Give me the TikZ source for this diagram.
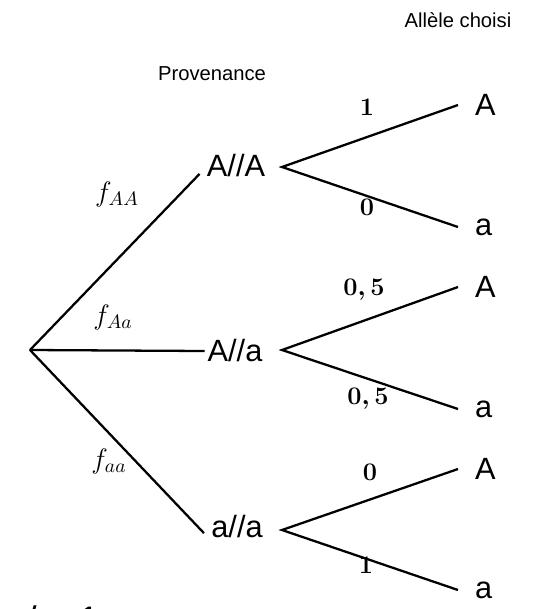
\documentclass[tikz,border=0pt]{standalone}
\usepackage{fontspec}
\usepackage{amsmath}
\usetikzlibrary{positioning}
\newfontfamily\arialfont{Liberation Sans}
\newcommand{\freqlabel}[1]{\scalebox{1.11}{$f_{#1}$}}

\begin{document}
\begin{tikzpicture}[x=0.02cm, y=-0.02cm,
  geno/.style={font=\arialfont\fontsize{17.5}{20}\selectfont, inner sep=0pt},
  leaf/.style={font=\arialfont\fontsize{17.5}{20}\selectfont, anchor=west, inner xsep=9.5pt, inner ysep=0pt},
  prob/.style={font=\Large\boldmath, anchor=base, inner sep=0pt},
  freq/.style={font=\Large, inner sep=0pt},
  head/.style={font=\arialfont\fontsize{11.5}{13}\selectfont, inner sep=0pt},
  branch/.style={line width=1.3pt},
]
  \useasboundingbox (0,0) rectangle (532,609);

  % titres
  \node[head] (prov) at (212,74) {Provenance};
  \node[head] (choix) at (458,20) {Allèle choisi};

  % premier niveau
  \coordinate (root) at (30,350);
  \node[geno] (AA) at (236,166) {A//A};
  \node[geno] (Aa) at (235,351) {A//a};
  \node[geno] (aa) at (237,527) {a//a};

  \draw[branch] (root) -- ([xshift=-4pt, yshift=-4.5pt]AA.west);
  \draw[branch] (root) -- ([xshift=-1.5pt]Aa.west);
  \draw[branch] (root) -- ([xshift=-4pt, yshift=-3.5pt]aa.west);

  \node[freq] (fAA) at (117,194) {\freqlabel{AA}};
  \node[freq] (fAa) at (113,317) {\freqlabel{Aa}};
  \node[freq] (faa) at (109,461) {\freqlabel{aa}};

  % second niveau
  \coordinate (AAfork) at (282,167);
  \coordinate (Aafork) at (282,350);
  \coordinate (aafork) at (282,530);

  \node[leaf] (AAA) at (458,105) {A};
  \node[leaf] (AAa) at (458,227) {a};
  \node[leaf] (AaA) at (458,287) {A};
  \node[leaf] (Aaa) at (458,409) {a};
  \node[leaf] (aaA) at (458,469) {A};
  \node[leaf] (aaa) at (458,590) {a};

  \draw[branch] (AAA.west) -- (AAfork) -- (AAa.west);
  \draw[branch] (AaA.west) -- (Aafork) -- (Aaa.west);
  \draw[branch] (aaA.west) -- (aafork) -- (aaa.west);

  \node[prob] (pAAA) at (367,115) {$1$};
  \node[prob] (pAAa) at (367,215) {$0$};
  \node[prob] (pAaA) at (364,295) {$0,5$};
  \node[prob] (pAaa) at (368,404) {$0,5$};
  \node[prob] (paaA) at (370,480) {$0$};
  \node[prob] (paaa) at (366,573) {$1$};

  % bas de page (coupe)
  \node[font=\arialfont\fontsize{21}{24}\selectfont, anchor=north west, inner sep=0pt] (somme) at (26,605) {/ = 1};
\end{tikzpicture}
\end{document}
